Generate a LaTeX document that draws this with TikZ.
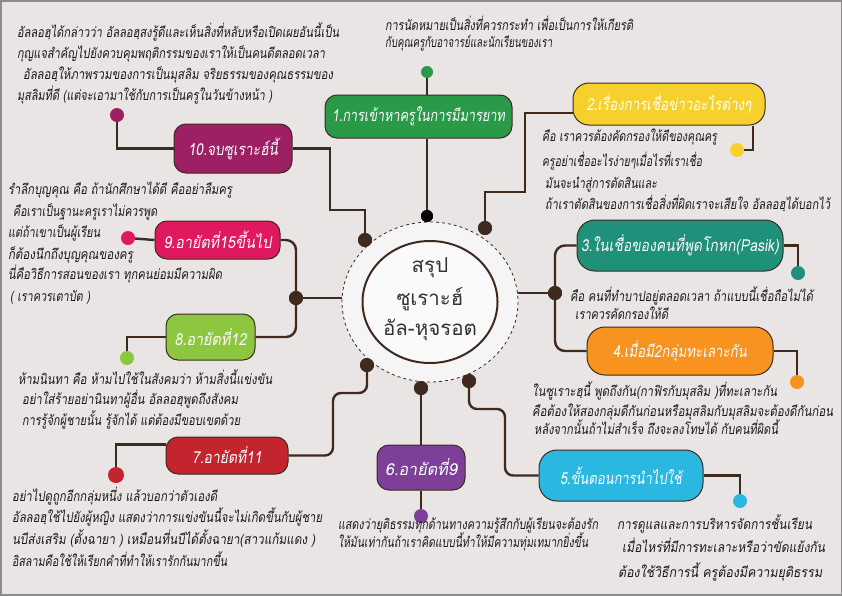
\documentclass[tikz,border=0pt]{standalone}
\usepackage{graphicx}
\usepackage{fontspec}
\newfontfamily\thai[Script=Thai,FakeSlant=0.18]{Loma}
\newfontfamily\thaiup[Script=Thai]{Loma}
\usetikzlibrary{calc}
\definecolor{bg}{HTML}{E9E5E4}
\definecolor{frame}{HTML}{8C8C8C}
\definecolor{brn}{HTML}{3E2A1F}
\definecolor{cgreen}{HTML}{2A9A48}
\definecolor{cyellow}{HTML}{F6D12E}
\definecolor{cteal}{HTML}{1F9079}
\definecolor{corange}{HTML}{F7931E}
\definecolor{ccyan}{HTML}{2BB8E0}
\definecolor{cpurple}{HTML}{7D3F98}
\definecolor{cred}{HTML}{C4242E}
\definecolor{clime}{HTML}{8DC63F}
\definecolor{cpink}{HTML}{E0195F}
\definecolor{cmag}{HTML}{9E1F63}
\newcommand\fsz[1]{\thai\fontsize{#1}{16}\selectfont}
\newcommand\fitw[2]{\resizebox{#1pt}{\height}{#2}}
\newcommand\tl[5]{\node[txt] (#1) at (#2,#3) {\fitw{#4}{#5}};}
\begin{document}
\begin{tikzpicture}[x=1pt,y=-1pt,
  box/.style={draw=brn, line width=1pt, rounded corners=12pt, text=white,
    font=\fsz{16.5}, inner sep=0pt},
  conn/.style={draw=brn, line width=2.4pt},
  dot/.style={circle, inner sep=0pt, minimum size=14pt},
  jdot/.style={dot, fill=brn},
  txt/.style={anchor=base west, inner sep=0pt, text=black!90, font=\fsz{14}}]
\useasboundingbox (0,0) rectangle (842,595);
\fill[bg] (0,0) rectangle (842,595);
\draw[frame, line width=3pt] (0,0) rectangle (842,595);

% ---------- boxes ----------
\node[box, fill=cgreen, minimum width=187pt, minimum height=43pt] (n1) at (418.5,116.5) {\fitw{173}{1.การเข้าหาครูในการมีมารยาท}};
\node[box, fill=cyellow, minimum width=192pt, minimum height=42pt, rounded corners=16pt] (n2) at (669,104) {\fitw{165}{2.เรื่องการเชื่อข่าวอะไรต่างๆ}};
\node[box, fill=cteal, minimum width=206pt, minimum height=51pt, rounded corners=18pt] (n3) at (680,245.5) {\fitw{198}{3.ในเชื่อของคนที่พูดโกหก(Pasik)}};
\node[box, fill=corange, minimum width=186pt, minimum height=48pt, rounded corners=18pt] (n4) at (680,351) {\fitw{134}{4.เมื่อมี2กลุ่มทะเลาะกัน}};
\node[box, fill=ccyan, minimum width=164pt, minimum height=51pt, rounded corners=18pt] (n5) at (621,475.5) {\fitw{122}{5.ขั้นตอนการนำไปใช้}};
\node[box, fill=cpurple, minimum width=88pt, minimum height=45pt] (n6) at (421,467.5) {\fitw{72}{6.อายัตที่9}};
\node[box, fill=cred, minimum width=122pt, minimum height=37pt] (n7) at (227,455.5) {\fitw{70}{7.อายัตที่11}};
\node[box, fill=clime, minimum width=89pt, minimum height=46pt] (n8) at (210.5,337) {\fitw{72}{8.อายัตที่12}};
\node[box, fill=cpink, minimum width=125pt, minimum height=38pt] (n9) at (217.5,240) {\fitw{108}{9.อายัตที่15ขึ้นไป}};
\node[box, fill=cmag, minimum width=118pt, minimum height=49pt] (n10) at (233,148.5) {\fitw{90}{10.จบซูเราะฮ์นี้}};

% ---------- dots ----------
\coordinate (c) at (430,302);
\node[dot, fill=black, minimum size=12pt] (d1) at (427,216) {};
\node[jdot] (d2) at (485,228) {};
\node[jdot] (d3) at (555,293) {};
\node[jdot] (d5) at (469,381) {};
\node[jdot] (d6) at (421,388) {};
\node[jdot] (d7) at (367,365) {};
\node[jdot] (d8) at (296,298) {};
\node[jdot] (d10) at (365,240) {};

\node[dot, fill=cgreen, minimum size=12pt] (e1) at (427,72) {};
\node[dot, fill=cyellow] (e2) at (737,150) {};
\node[dot, fill=cteal] (e3) at (798,273) {};
\node[dot, fill=corange] (e4) at (797,382) {};
\node[dot, fill=ccyan] (e5) at (740,501) {};
\node[dot, fill=cpurple] (e6) at (421,516) {};
\node[dot, fill=cred, minimum size=16pt] (e7) at (116,475) {};
\node[dot, fill=clime] (e8) at (127,358) {};
\node[dot, fill=cpink] (e9) at (128,238) {};
\node[dot, fill=cmag] (e10) at (117,115) {};

\coordinate (k2a) at (525,113);
\coordinate (k2b) at (525,192);
\coordinate (k5) at (505,409);
\coordinate (k7) at (333,393);
\coordinate (k10) at (330,210);

% ---------- connectors ----------
\draw[conn] (e1) -- (e1 |- n1.north);
\draw[conn] (n1.south -| d1) -- (d1);
\draw[conn] ([yshift=-9pt]n2.west) -- (k2a) -- (k2b) -| (d2);
\draw[conn] ([xshift=84pt]n2.south) |- (e2);
\draw[conn] (d3) -- (d3 -| c);
\draw[conn, rounded corners=10pt] (n3.west) -| (d3) |- (n4.west);
\draw[conn] (n3.east) -| (e3);
\draw[conn] (n4.east) -| (e4);
\draw[conn, rounded corners=8pt] (d5) |- (k5) |- (n5.west);
\draw[conn] (n5.east) -| (e5);
\draw[conn] (d6) -- (n6.north);
\draw[conn] (n6.south) -- (e6);
\draw[conn, rounded corners=8pt] (d7) |- (k7) |- (n7.east);
\draw[conn] ([yshift=11pt]n7.west) -| (e7);
\draw[conn] (d8) -- (d8 -| c);
\draw[conn, rounded corners=10pt] (n9.east) -| (d8) |- (n8.east);
\draw[conn] (n8.west) -| (e8);
\draw[conn] (n9.west) -- (e9);
\draw[conn] (n10.west) -| (e10);
\draw[conn] (n10.east) -| (k10) -| (d10);

% ---------- centre ----------
\draw[brn, line width=0.8pt, dashed, fill=white!96!black] (c) ellipse [x radius=88, y radius=80];
\draw[brn, line width=2pt, fill=white!98!black] (c) ellipse [x radius=67.5, y radius=61];
\node[font=\thaiup\fontsize{20.5}{24}\selectfont, text=black!80, inner sep=0pt] (ct1) at (430,268) {สรุป};
\node[font=\thaiup\fontsize{20.5}{24}\selectfont, text=black!80, inner sep=0pt] (ct2) at (430,299) {ซูเราะฮ์};
\node[font=\thaiup\fontsize{20.5}{24}\selectfont, text=black!80, inner sep=0pt] (ct3) at (430,330) {อัล-หุจรอต};

% redraw junction dots above the lines
\fill[black] (d1) circle (6pt);
\foreach \d in {d2,d3,d5,d6,d7,d8,d10}{\fill[brn] (\d) circle (7pt);}

% ---------- texts ----------
\tl{t1a}{17}{37}{322}{อัลลอฮฺได้กล่าวว่า อัลลอฮฺสงรู้ดีและเห็นสิ่งที่หลับหรือเปิดเผยอันนี้เป็น}
\tl{t1b}{17}{58}{308}{กุญแจสำคัญไปยังควบคุมพฤติกรรมของเราให้เป็นคนดีตลอดเวลา}
\tl{t1c}{23}{79}{310}{อัลลอฮฺให้ภาพรวมของการเป็นมุสลิม จริยธรรมของคุณธรรมของ}
\tl{t1d}{17}{100}{255}{มุสลิมที่ดี (แต่จะเอามาใช้กับการเป็นครูในวันข้างหน้า )}

\tl{t2a}{385}{30}{248}{การนัดหมายเป็นสิ่งที่ควรกระทำ เพื่อเป็นการให้เกียรติ}
\tl{t2b}{385}{47}{167}{กับคุณครูกับอาจารย์และนักเรียนของเรา}

\tl{t3a}{542}{141}{175}{คือ เราควรต้องคัดกรองให้ดีของคุณครู}
\tl{t3b}{542}{166}{160}{ครูอย่าเชื่ออะไรง่ายๆเมื่อไรที่เราเชื่อ}
\tl{t3c}{545}{188}{112}{มันจะนำสู่การตัดสินและ}
\tl{t3d}{545}{209}{285}{ถ้าเราตัดสินของการเชื่อสิ่งที่ผิดเราจะเสียใจ อัลลอฮฺได้บอกไว้}

\tl{t4a}{570}{301}{243}{คือ คนที่ทำบาปอยู่ตลอดเวลา ถ้าแบบนี้เชื่อถือไม่ได้}
\tl{t4b}{575}{319}{93}{เราควรคัดกรองให้ดี}

\tl{t5a}{532}{396}{245}{ในซูเราะฮฺนี้ พูดถึงกัน(กาฟิรกับมุสลิม )ที่ทะเลาะกัน}
\tl{t5b}{532}{416}{301}{คือต้องให้สองกลุ่มดีกันก่อนหรือมุสลิมกับมุสลิมจะต้องดีกันก่อน}
\tl{t5c}{534}{434}{244}{หลังจากนั้นถ้าไม่สำเร็จ ถึงจะลงโทษได้ กับคนที่ผิดนี้}

\tl{t6a}{338}{529}{260}{แสดงว่ายุติธรรมทุกด้านทางความรู้สึกกับผู้เรียนจะต้องรัก}
\tl{t6b}{338}{547}{250}{ให้มันเท่ากันถ้าเราคิดแบบนี้ทำให้มีความทุ่มเทมากยิ่งขึ้น}

\tl{t7a}{617}{529}{195}{การดูแลและการบริหารจัดการชั้นเรียน}
\tl{t7b}{622}{552}{203}{เมื่อไหร่ที่มีการทะเลาะหรือว่าขัดแย้งกัน}
\tl{t7c}{618}{577}{204}{ต้องใช้วิธีการนี้ ครูต้องมีความยุติธรรม}

\tl{t8a}{12}{501}{205}{อย่าไปดูถูกอีกกลุ่มหนึ่ง แล้วบอกว่าตัวเองดี}
\tl{t8b}{12}{522}{310}{อัลลอฮฺใช้ไปยังผู้หญิง แสดงว่าการแข่งขันนี้จะไม่เกิดขึ้นกับผู้ชาย}
\tl{t8c}{12}{544}{303}{นบีส่งเสริม (ตั้งฉายา ) เหมือนที่นบีได้ตั้งฉายา(สาวแก้มแดง )}
\tl{t8d}{12}{566}{215}{อิสลามคือใช้ให้เรียกคำที่ทำให้เรารักกันมากขึ้น}

\tl{t9a}{18}{384}{254}{ห้ามนินทา คือ ห้ามไปใช้ในสังคมว่า ห้ามสิ่งนี้แข่งขัน}
\tl{t9b}{22}{404}{216}{อย่าใส่ร้ายอย่านินทาผู้อื่น อัลลอฮฺพูดถึงสังคม}
\tl{t9c}{22}{425}{218}{การรู้จักผู้ชายนั้น รู้จักได้ แต่ต้องมีขอบเขตด้วย}

\tl{t10a}{8}{194}{224}{รำลึกบุญคุณ คือ ถ้านักศึกษาได้ดี คืออย่าลืมครู}
\tl{t10b}{13}{216}{144}{คือเราเป็นฐานะครูเราไม่ควรพูด}
\tl{t10c}{8}{237}{92}{แต่ถ้าเขาเป็นผู้เรียน}
\tl{t10d}{8}{259}{125}{ก็ต้องนึกถึงบุญคุณของครู}
\tl{t10e}{8}{279}{214}{นี่คือวิธีการสอนของเรา ทุกคนย่อมมีความผิด}
\tl{t10f}{10}{301}{80}{( เราควรเตาบัต )}
\end{tikzpicture}
\end{document}
